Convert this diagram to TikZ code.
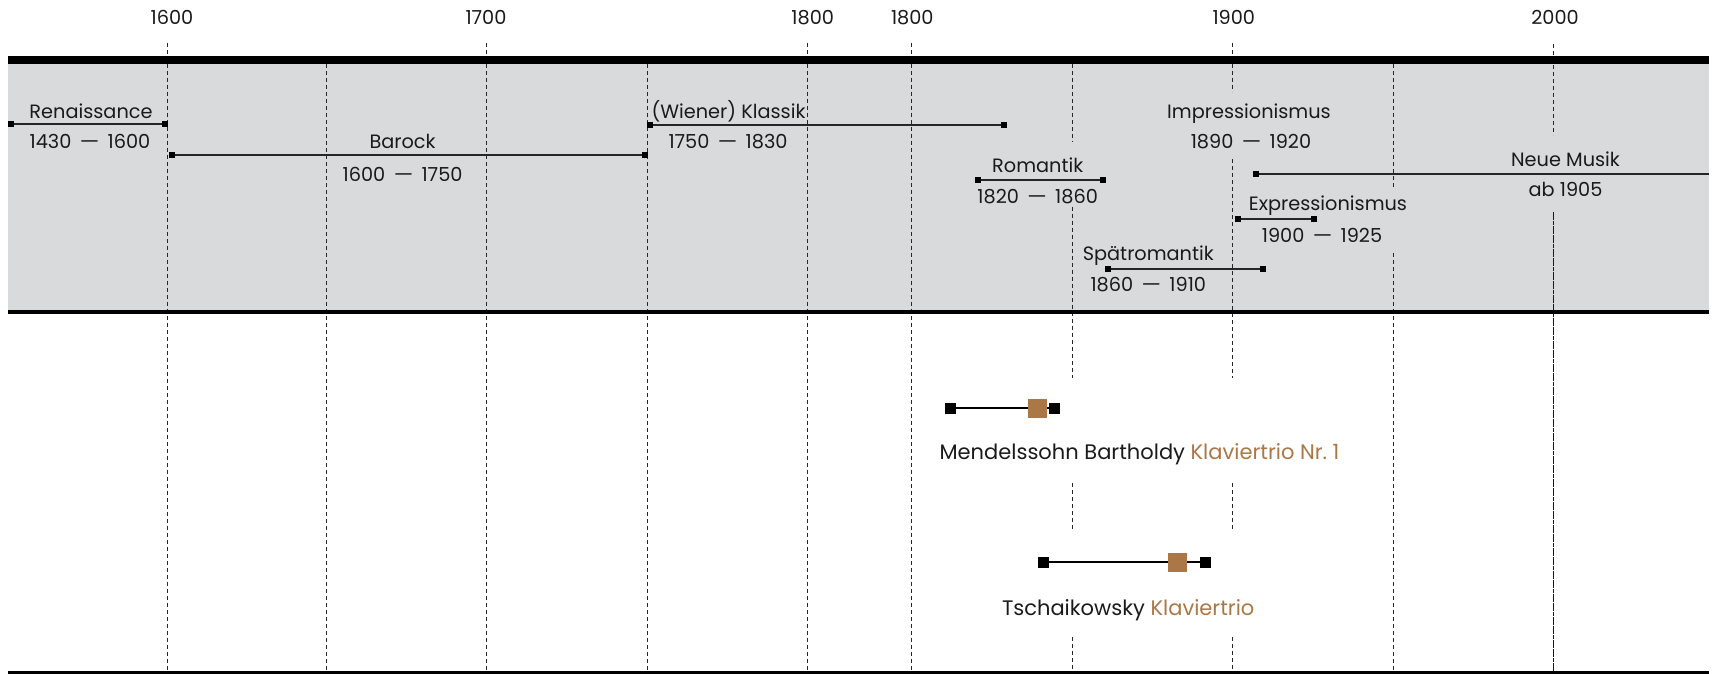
\documentclass[tikz,border=0pt]{standalone}
\usepackage{fontspec}
\usepackage{graphicx}
\setmainfont{Poppins}
\definecolor{bggray}{HTML}{D9DADC}
\definecolor{trioorange}{HTML}{AB7746}
\definecolor{ink}{HTML}{1A1A1A}
\newcommand\dsp{\hspace{2.5pt}\scalebox{1.6}[1]{–}\hspace{2.5pt}}
\begin{document}
\begin{tikzpicture}[x=1pt,y=-1pt,
  vline/.style={draw=black!85, line width=1pt, dash pattern=on 4pt off 3pt},
  vdense/.style={draw=black!90, line width=1.4pt, dash pattern=on 4pt off 0.6pt},
  lab/.style={font=\fontsize{19.3}{23}\selectfont, text=ink, anchor=base, inner sep=0pt},
  lowlab/.style={font=\fontsize{21}{25}\selectfont, text=ink, anchor=base, inner sep=0pt},
  endsq/.style={fill=black, minimum size=6pt, inner sep=0pt, outer sep=0pt},
  pline/.style={draw=black!85, line width=1.8pt},
  bigsq/.style={fill=black, minimum size=10.5pt, inner sep=0pt, outer sep=0pt},
  trsq/.style={fill=trioorange, minimum size=19pt, inner sep=0pt, outer sep=0pt},
  lifeline/.style={draw=black, line width=2pt}]
\useasboundingbox (0,0) rectangle (1713,674);
% background band
\fill[bggray] (8.3,64) rectangle (1709.3,310);
% vertical guide lines
\draw[vline] (167.7,42.7) -- (167.7,671);
\draw[vline] (326.5,64) -- (326.5,671);
\draw[vline] (486,42.7) -- (486,671);
\draw[vline] (647.3,64) -- (647.3,671);
\draw[vline] (807.9,42.7) -- (807.9,671);
\draw[vline] (911.3,42.7) -- (911.3,671);
\draw[vline] (1072.3,64) -- (1072.3,141.7);
\draw[vline] (1072.3,206.7) -- (1072.3,378.3);
\draw[vline] (1072.3,483.3) -- (1072.3,531.7);
\draw[vline] (1072.3,636.7) -- (1072.3,671);
\draw[vline] (1232.7,42.7) -- (1232.7,91.7);
\draw[vline] (1232.7,159.3) -- (1232.7,378.3);
\draw[vline] (1232.7,483.3) -- (1232.7,531.7);
\draw[vline] (1232.7,636.7) -- (1232.7,671);
\draw[vline] (1393.3,64) -- (1393.3,186.7);
\draw[vline] (1393.3,253.3) -- (1393.3,671);
\draw[vline] (1553.7,44) -- (1553.7,135);
\draw[vdense] (1553.7,211.7) -- (1553.7,671);
% horizontal rules
\fill[black] (8.3,56) rectangle (1709.3,64);
\fill[black] (8.3,310) rectangle (1709.3,314);
\fill[black] (8.3,671) rectangle (1709.3,674);
% year labels
\node[lab] (y1600) at (172,25) {1600};
\node[lab] (y1700) at (486,25) {1700};
\node[lab] (y1800a) at (812.7,25) {1800};
\node[lab] (y1800b) at (912.3,25) {1800};
\node[lab] (y1900) at (1233.8,25) {1900};
\node[lab] (y2000) at (1555,25) {2000};
% Renaissance
\node[endsq] (renA) at (11,124) {};
\node[endsq] (renB) at (164.7,124) {};
\draw[pline] (renA) -- (renB);
\node[lab] (renT) at (91,118.3) {Renaissance};
\node[lab] (renD) at (90,149) {1430 \dsp{} 1600};
% Barock
\node[endsq] (barA) at (172,154.7) {};
\node[endsq] (barB) at (644.5,154.7) {};
\draw[pline] (barA) -- (barB);
\node[lab] (barT) at (402.6,149) {Barock};
\node[lab] (barD) at (402.6,181) {1600 \dsp{} 1750};
% Klassik
\node[endsq] (klaA) at (649.5,125) {};
\node[endsq] (klaB) at (1004,125) {};
\draw[pline] (klaA) -- (klaB);
\node[lab] (klaT) at (728.5,118.3) {(Wiener) Klassik};
\node[lab] (klaD) at (728,149) {1750 \dsp{} 1830};
% Romantik
\node[endsq] (romA) at (977.7,180) {};
\node[endsq] (romB) at (1103.3,180) {};
\draw[pline] (romA) -- (romB);
\node[lab] (romT) at (1037.7,172.3) {Romantik};
\node[lab] (romD) at (1037.7,203.3) {1820 \dsp{} 1860};
% Impressionismus
\node[lab] (impT) at (1249,119) {Impressionismus};
\node[lab] (impD) at (1251,149) {1890 \dsp{} 1920};
% Neue Musik
\node[endsq] (neuA) at (1256.4,173.7) {};
\coordinate (neuB) at (1709.3,173.7);
\draw[pline] (neuA) -- (neuB);
\node[lab] (neuT) at (1565.5,166.7) {Neue Musik};
\node[lab] (neuD) at (1565.5,196.7) {ab 1905};
% Expressionismus
\node[endsq] (expA) at (1238,219) {};
\node[endsq] (expB) at (1314,219) {};
\draw[pline] (expA) -- (expB);
\node[lab] (expT) at (1328,210.7) {Expressionismus};
\node[lab] (expD) at (1322,242.3) {1900 \dsp{} 1925};
% Spaetromantik
\node[endsq] (spaA) at (1108.3,269) {};
\node[endsq] (spaB) at (1263.3,269) {};
\draw[pline] (spaA) -- (spaB);
\node[lab] (spaT) at (1148.3,260.7) {Spätromantik};
\node[lab] (spaD) at (1148.3,291.7) {1860 \dsp{} 1910};
% Mendelssohn
\node[bigsq] (menA) at (950.7,408.3) {};
\node[bigsq] (menB) at (1054.3,408.3) {};
\draw[lifeline] (menA) -- (menB);
\node[trsq] (menW) at (1037.3,408.3) {};
\node[lowlab] (menT) at (1139.5,459.3) {Mendelssohn Bartholdy \textcolor{trioorange}{Klaviertrio Nr.~1}};
% Tschaikowsky
\node[bigsq] (tscA) at (1043.3,562.3) {};
\node[bigsq] (tscB) at (1205.7,562.3) {};
\draw[lifeline] (tscA) -- (tscB);
\node[trsq] (tscW) at (1177.3,562.3) {};
\node[lowlab] (tscT) at (1128.2,615) {Tschaikowsky \textcolor{trioorange}{Klaviertrio}};
\end{tikzpicture}
\end{document}
